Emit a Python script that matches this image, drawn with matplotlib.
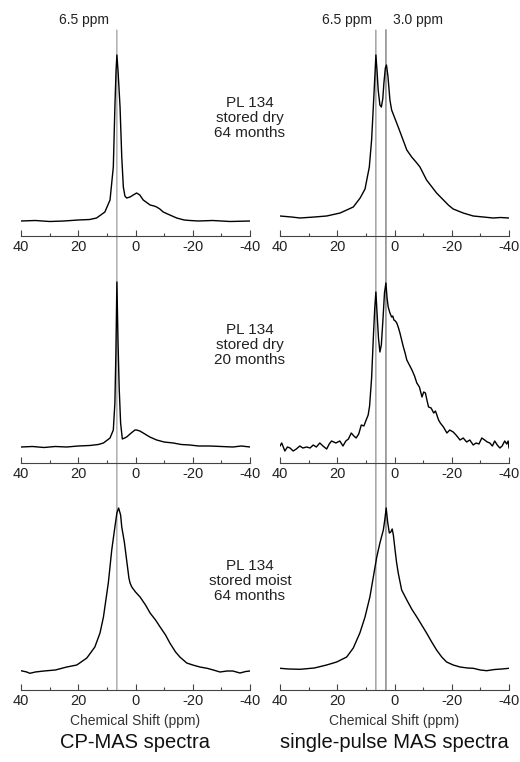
import matplotlib.pyplot as plt
from matplotlib.patches import ConnectionPatch

plt.rcParams['font.family'] = ['Liberation Sans', 'DejaVu Sans']
plt.rcParams['axes.unicode_minus'] = False

# --- data (ppm, intensity in arbitrary units) ---
cp_dry64_ppm = [40, 35, 30, 25, 20, 16, 13.6, 10.7, 8.9, 7.75, 7.2, 6.8, 6.5, 6.1, 5.4, 4.8, 4.25, 3.7,
                3.1, 1.9, 0.8, -0.4, -1.5, -2.7, -5.1, -6.5, -7.4, -8.5, -9.7, -12, -14.4, -17, -19,
                -22, -27, -33, -40]
cp_dry64_int = [15, 15.5, 14.5, 15, 16, 16.5, 18, 24, 36, 69, 129, 165, 181, 165, 129, 79, 49, 40,
                38, 39, 41, 43, 41, 36, 31, 30, 29, 27, 24, 21, 18, 16, 15.5,
                15, 15.5, 14.5, 15]

sp_dry64_ppm = [40, 36, 33, 28, 23.7, 19, 16.7, 14.4, 12, 10.3, 8.8, 8.0, 7.4, 6.8, 6.5, 6.1, 5.7, 5.1,
                4.6, 4.1, 3.7, 3.2, 2.8, 2.3, 1.6, 1.0, -1.3, -4.3, -6, -7.8, -8.9, -11.2, -14.7,
                -18.8, -20.5, -24, -27.5, -31, -34.5, -37, -40]
sp_dry64_int = [20, 19, 18, 19, 20, 23, 26, 29, 38, 47, 69, 96, 129, 163, 181, 165, 146, 131,
                129, 137, 153, 168, 171, 160, 136, 126, 109, 86, 79, 73, 69, 56, 43,
                31, 27, 23, 20, 19, 18, 18.5, 18]

cp_dry20_ppm = [40, 36, 32, 28, 24, 20, 16, 13, 11.2, 8.9, 7.75, 7.2, 6.85, 6.5, 6.1, 5.7, 5.2, 4.6,
                3.8, 3.1, 1.5, 0.2, -0.4, -1.5, -2.7, -5, -7.4, -10, -13.2, -16, -19, -22, -26,
                -30, -34, -37, -40]
cp_dry20_int = [16, 16.5, 15.5, 16.5, 16, 17, 17.5, 18.5, 20, 25, 33, 60, 110, 181, 120, 75, 40, 24,
                25, 26, 30, 33, 33, 32, 30, 26, 23, 21, 20, 18.5, 18, 17, 17,
                16.5, 16, 17, 16]

sp_dry20_ppm = [40, 39.4, 38.3, 37.4, 36.5, 35.4, 34.3, 33.1, 32, 30.7, 29.5, 28.4, 27.3, 26.1, 25,
                23.7, 22.8, 22, 20.5, 19.1, 18, 17, 16.1, 15.1, 14.2, 13.4, 12.5, 11.6, 10.7, 9.9,
                9.2, 8.7, 8.0, 7.4, 6.9, 6.5, 6.1, 5.6, 5.1, 4.6, 4.0, 3.5, 3.0, 2.6, 2.2, 1.6,
                1.0, 0.6, 0.2, -0.3, -0.8, -1.4, -1.9, -2.5, -3.1, -3.7, -4.3, -5.2, -6.1, -7.0,
                -7.8, -8.7, -9.6, -10.2, -10.8, -11.4, -11.9, -12.8, -13.7, -14.3, -14.8, -15.4,
                -16.0, -17.1, -18.3, -19.3, -20.5, -21.5, -22.9, -24, -25.2, -26.3, -27.5, -28.5,
                -29.5, -30.5, -31.5, -32.4, -33.3, -34.2, -35, -35.9, -36.8, -37.6, -38.5, -39.2,
                -39.7, -40]
sp_dry20_int = [17, 20, 12, 16, 15, 12, 14, 17, 15, 16, 15, 18, 16, 20, 17,
                14, 19, 22, 20, 22, 17, 22, 24, 30, 27, 25, 29, 38, 37, 43,
                48, 57, 85, 125, 155, 171, 150, 125, 111, 118, 145, 170, 180, 165, 156, 150,
                146, 147, 143, 142, 140, 135, 130, 123, 116, 110, 103, 98, 93, 87,
                80, 76, 66, 71, 70, 62, 56, 55, 50, 52, 48, 43,
                40, 36, 30, 33, 31, 28, 23, 25, 21, 23, 18, 20,
                19, 25, 23, 21, 20, 17, 22, 18, 15, 17, 22, 19,
                22, 15]

cp_moist64_ppm = [40, 38, 36.9, 35, 32, 28, 24, 20.5, 17, 14.2, 12.4, 11.2, 9.5, 8.3, 7.2, 6.5, 5.9,
                  5.2, 4.8, 3.9, 3.1, 2.3, 1.9, 1.3, 0, -1.6, -3.5, -5.1, -7, -8.6, -10.5, -12,
                  -14, -15.5, -17.9, -20, -22.5, -25, -27.2, -29.5, -32, -34, -36.5, -38.5, -40]
cp_moist64_int = [19.3, 18, 16.7, 18, 19, 20, 23, 25, 32, 43, 57, 73, 107, 140, 163, 177, 182,
                  175, 163, 148, 130, 112, 107, 103, 98, 93, 85, 77, 70, 63, 55, 47,
                  38, 33, 27, 25, 23, 21.7, 20, 18, 19, 19, 17, 18.5, 19]

sp_moist64_ppm = [40, 37, 33, 28, 23.7, 20.2, 16.7, 14.4, 12.1, 10.3, 8.6, 7.4, 6.2, 5.1, 3.9, 3.4,
                  2.9, 2.4, 1.8, 1.3, 0.8, 0.4, -0.2, -0.7, -1.3, -2.5, -4.3, -6, -7.8, -9.5,
                  -11.2, -13, -14.7, -16.5, -18.2, -20.5, -22.9, -25.5, -27.5, -30, -32.2, -35,
                  -37.5, -40]
sp_moist64_int = [21.7, 21, 20.7, 22, 25, 28, 33, 42, 57, 73, 93, 113, 133, 147, 160, 170,
                  182, 168, 157, 158, 161, 155, 140, 128, 117, 100, 90, 81, 73, 65,
                  57, 48, 40, 33, 28, 25, 23, 22, 21.7, 20, 19.3, 20.5,
                  21, 21.7]

samples = ['PL 134\nstored dry\n64 months', 'PL 134\nstored dry\n20 months',
           'PL 134\nstored moist\n64 months']
left_data = [(cp_dry64_ppm, cp_dry64_int), (cp_dry20_ppm, cp_dry20_int),
             (cp_moist64_ppm, cp_moist64_int)]
right_data = [(sp_dry64_ppm, sp_dry64_int), (sp_dry20_ppm, sp_dry20_int),
              (sp_moist64_ppm, sp_moist64_int)]
column_titles = ['CP-MAS spectra', 'single-pulse MAS spectra']

fig, axes = plt.subplots(3, 2, figsize=(5.2, 7.62), dpi=100)
fig.subplots_adjust(left=21/520, right=509/520, bottom=72/762, top=721/762,
                    wspace=30/229, hspace=32/195)

for row in range(3):
    for col, data in enumerate([left_data, right_data]):
        ax = axes[row, col]
        ax.patch.set_visible(False)
        x, y = data[row]
        ax.plot(x, y, color='black', lw=1.0, zorder=3)
        ax.set_xlim(40, -40)
        ax.set_ylim(0, 195)
        for s in ['left', 'right', 'top']:
            ax.spines[s].set_visible(False)
        ax.spines['bottom'].set_color('#444444')
        ax.set_yticks([])
        ax.set_xticks([40, 20, 0, -20, -40])
        ax.set_xticks([30, 10, -10, -30], minor=True)
        ax.tick_params(axis='x', which='major', direction='in', length=4, width=0.8,
                       labelsize=10.5, pad=3, colors='#444444', labelcolor='#222222')
        ax.tick_params(axis='x', which='minor', direction='in', length=2.5, width=0.8,
                       colors='#444444')
    axes[row, 0].text(1.0, 118/195 if row < 2 else 109/195, samples[row],
                      transform=axes[row, 0].transAxes, ha='center', va='center',
                      fontsize=11, linespacing=1.05, color='#222222', clip_on=False,
                      zorder=5)

for col in range(2):
    ax = axes[2, col]
    ax.set_xlabel('Chemical Shift (ppm)', fontsize=10, color='#333333', labelpad=4)
    ax.text(0.5, -0.267, column_titles[col], transform=ax.transAxes, ha='center',
            va='center', fontsize=14.5, color='#111111')

# reference lines through all three rows
ref_lines = [(0, 6.5, '#808080', 0.7), (1, 6.5, '#707070', 0.7), (1, 3.0, '#9a9a9a', 1.3)]
for col, ppm, c, lw in ref_lines:
    con = ConnectionPatch(xyA=(ppm, 206), coordsA=axes[0, col].transData,
                          xyB=(ppm, 0), coordsB=axes[2, col].transData,
                          color=c, lw=lw, zorder=0)
    fig.add_artist(con)

axes[0, 0].annotate('6.5 ppm', xy=(6.5, 216), xytext=(-8, 0), textcoords='offset pixels',
                    ha='right', va='center', fontsize=10, color='#222222', annotation_clip=False)
axes[0, 1].annotate('6.5 ppm', xy=(6.5, 216), xytext=(-4, 0), textcoords='offset pixels',
                    ha='right', va='center', fontsize=10, color='#222222', annotation_clip=False)
axes[0, 1].annotate('3.0 ppm', xy=(3.0, 216), xytext=(7, 0), textcoords='offset pixels',
                    ha='left', va='center', fontsize=10, color='#222222', annotation_clip=False)

fig.savefig('out.png', dpi=100)
